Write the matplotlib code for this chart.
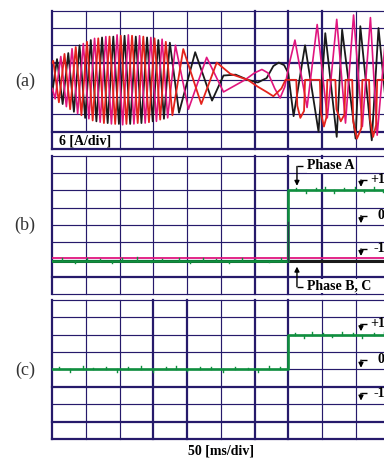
import matplotlib.pyplot as plt

plt.rcParams['font.family'] = ['Liberation Serif', 'DejaVu Serif']

NAVY = '#261a6b'
GREEN = '#0f8f3e'
PINK = '#e0157f'
RED = '#e4231c'
BLACK = '#1a1a1a'

# panel (a): phase currents, peaks/troughs
# time in ms (50 ms/div), value in divisions from the centre line (6 A/div)
black_t = [0, 7, 15.35, 23.7, 32.05, 40.4, 48.75, 57.1, 65.45, 73.8,
           82.15, 90.5, 98.85, 107.2, 115.55, 123.9, 132.25, 140.6, 148.95, 157.3,
           165.65, 174.4, 188, 212, 237, 254, 272, 290, 305, 318,
           328, 336, 344, 350, 358, 375, 395, 405, 422, 430,
           450, 457, 474, 484, 500]
black_v = [-0.7, 1.2, -1.4, 1.55, -1.85, 2.0, -2.2, 2.3, -2.4, 2.45,
           -2.5, 2.5, -2.55, 2.55, -2.55, 2.5, -2.5, 2.45, -2.4, 2.3,
           -2.25, 2.15, -1.9, 1.6, -1.2, 0.25, 0.3, 0.0, -0.15, 0.1,
           0.8, 1.0, 0.85, 0.4, -2.1, 2.0, -3.0, 2.7, -3.3, 2.9,
           -3.4, 3.1, -3.5, 3.0, -3.4]

red_t = [0, 1.4, 9.8, 18.1, 26.5, 34.8, 43.2, 51.5, 59.9, 68.2,
         76.6, 84.9, 93.3, 101.6, 110.0, 118.3, 126.7, 135.0, 143.4, 151.7,
         160.1, 168.4, 178.2, 194.3, 221, 244, 264, 290, 305, 318,
         328, 340, 346, 362, 363.5, 368, 373.5, 375, 397, 398.5,
         403, 406.5, 408, 420, 421.5, 428, 433.5, 435, 445, 446.5,
         452, 458.5, 460, 470, 471.5, 476, 480.5, 482, 495, 496.5,
         500]
red_v = [1.0, 1.1, -1.3, 1.5, -1.7, 1.9, -2.05, 2.2, -2.35, 2.4,
         -2.5, 2.5, -2.55, 2.55, -2.55, 2.55, -2.5, 2.5, -2.45, 2.4,
         -2.3, 2.2, -2.05, 1.78, -1.4, 1.0, 0.35, 0.0, -0.4, -0.7,
         -0.95, -0.5, 0.0, 0.0, -1.5, -2.2, -1.8, 0.0, 0.0, -1.9,
         -2.7, -2.2, 0.0, 0.0, -1.7, -2.4, -2.0, 0.0, 0.0, -2.4,
         -3.4, -2.8, 0.0, 0.0, -2.3, -3.3, -2.6, 0.0, 0.0, -2.3,
         -3.0]

pink_t = [0, 4.2, 12.6, 20.9, 29.3, 37.6, 46.0, 54.3, 62.7, 71.0,
          79.4, 87.7, 96.1, 104.4, 112.8, 121.1, 129.5, 137.8, 146.2, 154.5,
          162.9, 171.2, 182.7, 202.0, 229, 254, 270, 286, 300, 311,
          320, 330, 338, 345, 352, 360, 378, 393, 408, 422,
          435, 447, 460, 472, 482, 497, 500]
pink_v = [-0.5, -1.1, 1.35, -1.55, 1.8, -1.95, 2.1, -2.25, 2.4, -2.45,
          2.5, -2.55, 2.6, -2.6, 2.6, -2.55, 2.55, -2.5, 2.45, -2.4,
          2.35, -2.2, 2.0, -1.7, 1.3, -0.7, -0.35, 0.0, 0.4, 0.6,
          0.4, -0.5, -1.05, -0.4, 1.0, 2.3, -1.6, 3.2, -2.2, 3.5,
          -2.5, 3.75, -2.7, 3.6, -3.2, 3.6, 3.0]

# panels (b), (c): switching states (-1, 0, +1), step at 350 ms
step_t = [0, 350, 350, 500]
b_phase_a = [-1.03, -1.03, 1.01, 1.01]
b_phase_b = [-0.94, -0.94, -0.94, -0.94]
b_phase_c = [-1.04, -1.04, -1.04, -1.04]
c_state = [0.0, 0.0, 0.985, 0.985]

# small glitches on the green traces (ms, size in divisions)
b_noise_t = [14, 33, 52, 71, 88, 104, 126, 147, 163, 188, 205, 224, 243, 262,
             281, 300, 322, 340, 362, 377, 391, 404, 418, 433, 449, 463, 478, 491]
b_noise_v = [0.15, -0.12, 0.18, 0.1, -0.15, 0.14, 0.2, -0.1, 0.12, 0.16, -0.12, 0.14,
             0.1, -0.14, 0.18, 0.12, -0.1, 0.15, 0.14, -0.18, 0.12, 0.2, -0.15, 0.12,
             0.16, -0.14, 0.18, -0.12]
c_noise_t = [10, 27, 45, 60, 79, 96, 113, 131, 150, 168, 183, 200, 219, 236, 254,
             271, 290, 305, 322, 338, 360, 374, 386, 401, 415, 430, 446, 460, 477, 492]
c_noise_v = [0.12, -0.15, 0.18, 0.1, 0.16, -0.12, 0.14, 0.2, -0.14, 0.12, 0.18, -0.1,
             0.15, 0.12, -0.16, 0.14, 0.1, -0.12, 0.18, 0.15, 0.12, -0.14, 0.2, 0.15,
             -0.12, 0.18, 0.14, -0.15, 0.12, 0.16]


def lvl(values):
    # state -> grid division, centre line at 4, 2 div per unit
    return [4 + 2 * v for v in values]


def draw_grid(ax, thick_x, thick_y, short_x=()):
    for i in range(11):
        lw = 1.6 if i in thick_x else 0.85
        ymin = 1 / 8 if i in short_x else 0
        ax.axvline(i * 50, ymin=ymin, color=NAVY, lw=lw, clip_on=False, zorder=1)
    for j in range(9):
        lw = 1.6 if j in thick_y else 0.85
        ax.axhline(j, color=NAVY, lw=lw, clip_on=False, zorder=1)


def bracket(ax, x0, x1, y0, y1):
    ax.plot([x0, x1], [y0, y0], color='k', lw=1.0, solid_capstyle='butt',
            clip_on=False, zorder=6)
    ax.annotate('', xy=(x0, y1), xytext=(x0, y0), annotation_clip=False, zorder=6,
                arrowprops=dict(arrowstyle='-|>', color='k', lw=1.0,
                                mutation_scale=7, shrinkA=0, shrinkB=0))


def noise(ax, base, ts, vs):
    for t, v in zip(ts, vs):
        y0 = base[0] if t < 350 else base[-1]
        ax.plot([t, t], [y0, y0 + v], color=GREEN, lw=1.0, zorder=5)


def levels(ax):
    lab = dict(fontsize=10, weight='bold', va='center', ha='left', zorder=7,
               clip_on=False)
    bracket(ax, 458, 467, 6.6, 6.2)
    ax.text(471, 6.62, '+1', **lab)
    bracket(ax, 458, 467, 4.54, 4.1)
    ax.text(483, 4.56, '0', **lab)
    bracket(ax, 458, 467, 2.62, 2.21)
    ax.text(476, 2.64, '-1', **lab)


fig = plt.figure(figsize=(3.84, 4.59), dpi=100)
left, width = 52.3 / 384, 337 / 384
ax_a = fig.add_axes([left, 0.6754, width, 0.3013])
ax_b = fig.add_axes([left, 0.3588, width, 0.3020])
ax_c = fig.add_axes([left, 0.0436, width, 0.3028])
for ax in (ax_a, ax_b, ax_c):
    ax.set_xlim(0, 500)
    ax.set_ylim(0, 8)
    ax.axis('off')

# (a)
draw_grid(ax_a, thick_x=(0, 6, 7, 8), thick_y=(0, 1, 5), short_x=(1,))
ax_a.plot(black_t, [4 + v for v in black_v], color=BLACK, lw=1.3, zorder=2)
ax_a.plot(pink_t, [4 + v for v in pink_v], color=PINK, lw=1.2, zorder=3)
ax_a.plot(red_t, [4 + v for v in red_v], color=RED, lw=1.3, zorder=4)

# (b)
draw_grid(ax_b, thick_x=(0, 6, 7, 8), thick_y=(1,))
ax_b.plot(step_t, lvl(b_phase_c), color=BLACK, lw=2.2, zorder=2)
ax_b.plot(step_t, lvl(b_phase_b), color=PINK, lw=1.3, zorder=3)
ax_b.plot(step_t, lvl(b_phase_a), color=GREEN, lw=1.9, zorder=4)
noise(ax_b, lvl(b_phase_a), b_noise_t, b_noise_v)
ax_b.plot([349.3, 349.3], [lvl(b_phase_a)[0], 4.2], color='#2a3550', lw=1.0, zorder=5)
bracket(ax_b, 363, 372, 7.38, 6.26)
ax_b.text(378, 7.42, 'Phase A', fontsize=10, weight='bold', va='center', ha='left',
          zorder=7, bbox=dict(facecolor='white', edgecolor='none', pad=0.3))
bracket(ax_b, 363, 372, 0.44, 1.6)
ax_b.text(378, 0.5, 'Phase B, C', fontsize=10, weight='bold', va='center', ha='left',
          zorder=7, bbox=dict(facecolor='white', edgecolor='none', pad=0.3))
levels(ax_b)

# (c)
draw_grid(ax_c, thick_x=(0, 3, 4, 6, 7), thick_y=(0, 1, 3))
ax_c.plot(step_t, lvl(c_state), color=GREEN, lw=1.9, zorder=4)
noise(ax_c, lvl(c_state), c_noise_t, c_noise_v)
levels(ax_c)

panel = dict(fontsize=13, color='#333333', ha='center', va='center')
fig.text(25 / 384, 1 - 81 / 459, '(a)', **panel)
fig.text(25 / 384, 1 - 225 / 459, '(b)', **panel)
fig.text(25 / 384, 1 - 370 / 459, '(c)', **panel)
fig.text(59 / 384, 1 - 141 / 459, '6 [A/div]', fontsize=10, weight='bold',
         ha='left', va='center')
fig.text(221 / 384, 1 - 451 / 459, '50 [ms/div]', fontsize=10, weight='bold',
         ha='center', va='center')

fig.savefig('out.png', dpi=100)
